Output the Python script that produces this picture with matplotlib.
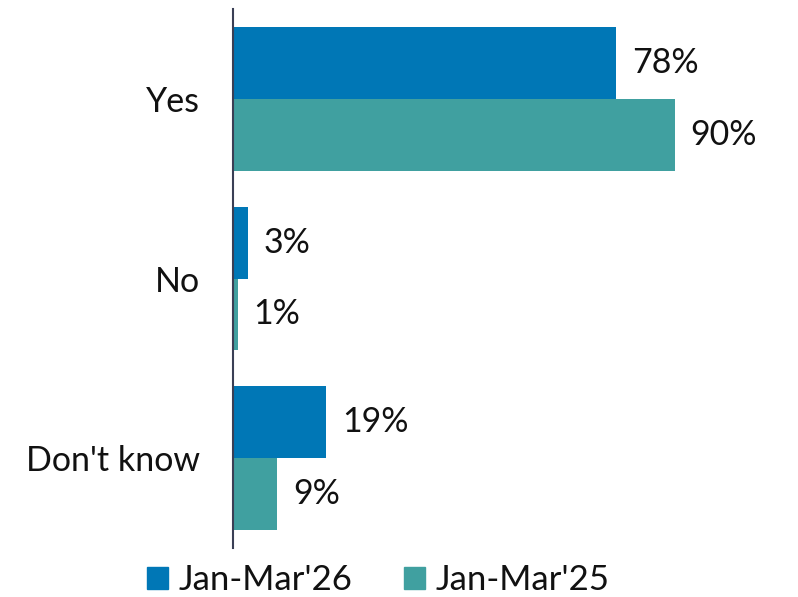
import matplotlib
matplotlib.use("Agg")
import matplotlib.pyplot as plt
import numpy as np
from matplotlib.patches import Patch

plt.rcParams['font.family'] = ['Lato', 'DejaVu Sans']

categories = ["Yes", "No", "Don't know"]
series_names = ["Jan-Mar'26", "Jan-Mar'25"]
jan_mar_26 = [78, 3, 19]
jan_mar_25 = [90, 1, 9]
colors = ["#0077B6", "#40A0A0"]

fig = plt.figure(figsize=(7.98, 5.97), dpi=100)
ax = fig.add_axes([0.292, 0.082, 0.688, 0.903])

y = np.arange(len(categories))
h = 0.4
for vals, off, col in [(jan_mar_26, -h / 2, colors[0]), (jan_mar_25, h / 2, colors[1])]:
    bars = ax.barh(y + off, vals, height=h, color=col)
    for b, v in zip(bars, vals):
        ax.text(v + 3.2, b.get_y() + b.get_height() / 2, f"{v}%",
                va='center', ha='left', fontsize=24.5, color='#111111')

ax.set_xlim(0, 111.8)
ax.set_ylim(2.5, -0.5)
ax.set_yticks(y)
ax.set_yticklabels(categories, fontsize=24.5, color='#111111')
ax.tick_params(axis='y', length=0, pad=24)
ax.set_xticks([])
for s in ['top', 'right', 'bottom']:
    ax.spines[s].set_visible(False)
ax.spines['left'].set_color('#3a3f55')
ax.spines['left'].set_linewidth(1.5)

# legend along the bottom edge, square colour keys
handles = [Patch(color=c, label=n) for c, n in zip(colors, series_names)]
fig.legend(handles=handles, loc='center', bbox_to_anchor=(0.474, 0.028), ncol=2,
           frameon=False, fontsize=25, handlelength=0.6, handleheight=0.6,
           handletextpad=0.3, columnspacing=1.5, labelcolor='#111111')

fig.savefig("out.png", dpi=100)
